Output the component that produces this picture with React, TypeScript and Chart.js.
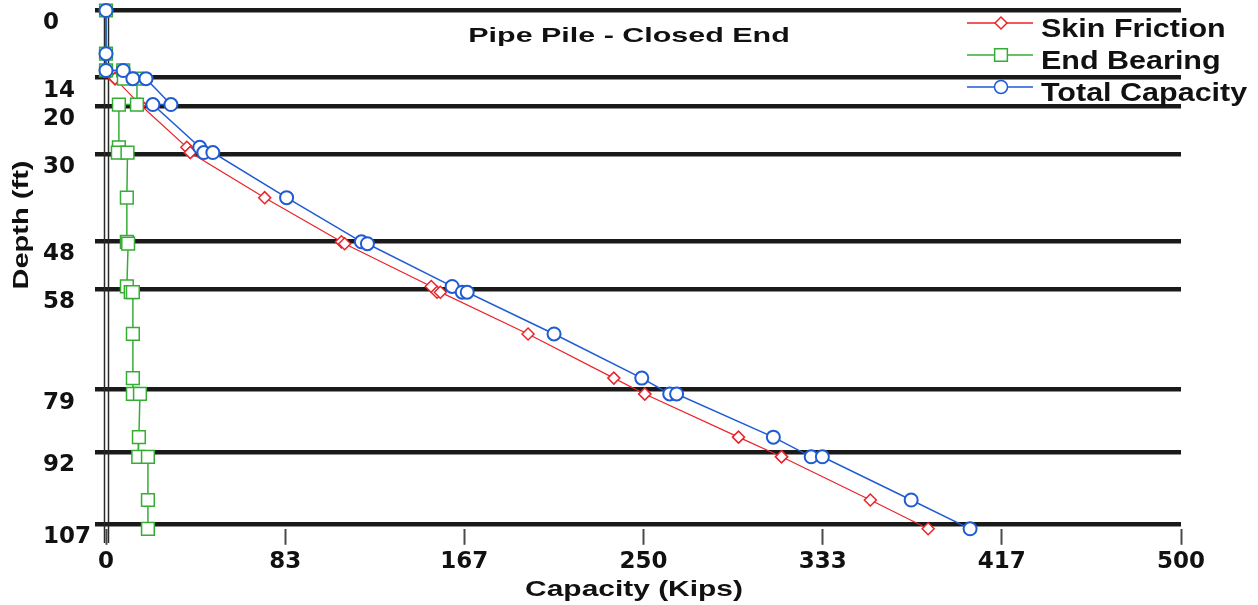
import React, { useEffect, useRef } from 'react';
import { Chart, registerables } from 'chart.js';

Chart.register(...registerables);

// ---- data ----
const depthFt = [0, 9, 12.5, 12.5, 14.2, 14.2, 19.6, 19.6, 28.5, 29.6, 29.6, 39, 48.2, 48.6, 57.5, 58.7, 58.7, 67.4, 76.6, 79.9, 79.9, 88.9, 93, 93, 102, 108];
const skinFriction = [0, 0, 0, 0, 4.2, 4.2, 15.8, 15.8, 37.6, 39.2, 39.2, 73.8, 109.5, 111, 151.3, 154, 155.5, 196.3, 236.2, 250.6, 250.6, 294.2, 314.2, 314.2, 355.5, 382.4];
const endBearing = [0, 0, 0, 8, 8.3, 14.4, 14.4, 6, 6, 5.5, 10, 9.7, 9.7, 10.3, 9.7, 11.5, 12.5, 12.5, 12.5, 12.5, 15.8, 15.3, 15, 19.5, 19.5, 19.5];
const totalCapacity = [0, 0, 0, 8, 12.5, 18.6, 30.2, 21.8, 43.6, 45.5, 49.7, 84, 118.8, 121.6, 161, 165.7, 168, 208.4, 249.2, 262.2, 265.4, 310.4, 328, 333.2, 374.5, 401.9];

const depthTicks = [0, 14, 20, 30, 48, 58, 79, 92, 107];
const capacityTicks = [0, 83.33, 166.67, 250, 333.33, 416.67, 500];
const capacityTickLabels = ['0', '83', '167', '250', '333', '417', '500'];

const seriesLabels = ['Skin Friction', 'End Bearing', 'Total Capacity'];
const chartTitle = 'Pipe Pile - Closed End';
const xTitle = 'Capacity (Kips)';
const yTitle = 'Depth (ft)';

const TICK_FONT = '"DejaVu Sans", "Liberation Sans", sans-serif';
const LABEL_FONT = '"Liberation Sans", Arial, sans-serif';
const RED = '#ec2229';
const GREEN = '#35ad35';
const BLUE = '#1f5bd3';
const TEXT = '#111111';

function drawScaledText(ctx: CanvasRenderingContext2D, text: string, x: number, y: number, size: number, sx: number, align: 'left' | 'center') {
  ctx.save();
  ctx.font = `bold ${size}px ${LABEL_FONT}`;
  ctx.textBaseline = 'alphabetic';
  ctx.textAlign = 'left';
  const w = ctx.measureText(text).width * sx;
  const left = align === 'center' ? x - w / 2 : x;
  ctx.translate(left, y);
  ctx.scale(sx, 1);
  ctx.fillStyle = TEXT;
  ctx.fillText(text, 0, 0);
  ctx.restore();
}

function drawMarker(ctx: CanvasRenderingContext2D, style: string, x: number, y: number, r: number) {
  ctx.beginPath();
  if (style === 'circle') {
    ctx.arc(x, y, r, 0, Math.PI * 2);
  } else if (style === 'rect') {
    const s = r * Math.SQRT1_2;
    ctx.rect(x - s, y - s, 2 * s, 2 * s);
  } else {
    ctx.moveTo(x - r, y);
    ctx.lineTo(x, y - r);
    ctx.lineTo(x + r, y);
    ctx.lineTo(x, y + r);
    ctx.closePath();
  }
  ctx.fillStyle = '#ffffff';
  ctx.fill();
  ctx.stroke();
}

const decorPlugin = {
  id: 'decor',
  beforeDatasetsDraw(chart: any) {
    const ctx: CanvasRenderingContext2D = chart.ctx;
    const left = chart.chartArea.left;
    ctx.save();
    ctx.strokeStyle = '#2a2a2a';
    ctx.lineWidth = 1.5;
    ctx.beginPath();
    ctx.moveTo(left - 1.5, 9);
    ctx.lineTo(left - 1.5, 543);
    ctx.moveTo(left + 2.5, 9);
    ctx.lineTo(left + 2.5, 543);
    ctx.stroke();
    ctx.restore();
  },
  afterDraw(chart: any) {
    const ctx: CanvasRenderingContext2D = chart.ctx;
    // title
    drawScaledText(ctx, chartTitle, 629, 42, 21, 1.45, 'center');
    // x axis title
    drawScaledText(ctx, xTitle, 634, 596, 22, 1.36, 'center');
    // y axis title (rotated)
    ctx.save();
    ctx.translate(28, 225);
    ctx.rotate(-Math.PI / 2);
    ctx.font = `bold 22px ${LABEL_FONT}`;
    const w = ctx.measureText(yTitle).width * 1.32;
    ctx.translate(-w / 2, 0);
    ctx.scale(1.32, 1);
    ctx.textAlign = 'left';
    ctx.textBaseline = 'alphabetic';
    ctx.fillStyle = TEXT;
    ctx.fillText(yTitle, 0, 0);
    ctx.restore();
    // legend
    const rowsY = [23, 55, 87];
    chart.data.datasets.forEach((ds: any, i: number) => {
      const y = rowsY[i];
      ctx.save();
      ctx.strokeStyle = ds.borderColor;
      ctx.lineWidth = 1.5;
      ctx.beginPath();
      ctx.moveTo(967, y);
      ctx.lineTo(1033, y);
      ctx.stroke();
      drawMarker(ctx, ds.pointStyle, 1001, y, ds.pointRadius);
      ctx.restore();
      drawScaledText(ctx, ds.label, 1041, y + 14, 25, 1.22, 'left');
    });
  },
};

function series(values: number[]) {
  return depthFt.map((d, i) => ({ x: values[i], y: d }));
}

export default function App() {
  const ref = useRef<HTMLCanvasElement>(null);

  useEffect(() => {
    if (!ref.current) return;
    const chart = new Chart(ref.current, {
      type: 'scatter',
      data: {
        datasets: [
          {
            label: seriesLabels[0],
            data: series(skinFriction),
            showLine: true,
            borderColor: RED,
            backgroundColor: RED,
            borderWidth: 1.2,
            pointStyle: 'rectRot',
            pointRadius: 6,
            pointBorderWidth: 1.5,
            pointBackgroundColor: '#ffffff',
            order: 2,
            clip: false,
          },
          {
            label: seriesLabels[1],
            data: series(endBearing),
            showLine: true,
            borderColor: GREEN,
            backgroundColor: GREEN,
            borderWidth: 1.5,
            pointStyle: 'rect',
            pointRadius: 9,
            pointBorderWidth: 1.5,
            pointBackgroundColor: '#ffffff',
            order: 1,
            clip: false,
          },
          {
            label: seriesLabels[2],
            data: series(totalCapacity),
            showLine: true,
            borderColor: BLUE,
            backgroundColor: BLUE,
            borderWidth: 1.5,
            pointStyle: 'circle',
            pointRadius: 6.5,
            pointBorderWidth: 2,
            pointBackgroundColor: '#ffffff',
            order: 0,
            clip: false,
          },
        ],
      } as any,
      options: {
        animation: false,
        responsive: false,
        layout: { padding: { left: 43, top: 10, right: 77, bottom: 0 } },
        plugins: {
          legend: { display: false },
          title: { display: false },
          tooltip: { enabled: false },
        },
        scales: {
          x: {
            type: 'linear',
            position: 'bottom',
            min: 0,
            max: 500,
            afterBuildTicks: (s: any) => {
              s.ticks = capacityTicks.map((v) => ({ value: v }));
            },
            afterFit: (s: any) => {
              s.height = 605 - 528.8;
              s.paddingLeft = 0;
              s.paddingRight = 0;
            },
            grid: { drawOnChartArea: false, drawTicks: true, tickLength: 16, tickWidth: 2, tickColor: '#4a4a4a' },
            border: { display: false },
            ticks: {
              callback: (_v: any, i: number) => capacityTickLabels[i],
              font: { family: TICK_FONT, size: 23, weight: 'bold' },
              color: TEXT,
              padding: 3,
              maxRotation: 0,
              autoSkip: false,
            },
            title: { display: false },
          },
          y: {
            type: 'linear',
            reverse: true,
            min: 0,
            max: 108,
            afterBuildTicks: (s: any) => {
              s.ticks = depthTicks.map((v) => ({ value: v }));
            },
            afterFit: (s: any) => {
              s.width = 63;
              s.paddingTop = 0;
              s.paddingBottom = 0;
            },
            grid: { color: '#1a1a1a', lineWidth: 4.5, drawTicks: true, tickLength: 11 },
            border: { display: false },
            ticks: {
              callback: (_v: any, i: number) => String(depthTicks[i]),
              font: { family: TICK_FONT, size: 23, weight: 'bold' },
              color: TEXT,
              crossAlign: 'far',
              labelOffset: 13,
              autoSkip: false,
            },
            title: { display: false },
          },
        },
      } as any,
      plugins: [decorPlugin],
    });
    return () => chart.destroy();
  }, []);

  return (
    <div style={{ position: 'absolute', left: 0, top: 0, width: 1258, height: 605, background: '#ffffff' }}>
      <canvas ref={ref} width={1258} height={605} style={{ display: 'block' }} />
    </div>
  );
}
